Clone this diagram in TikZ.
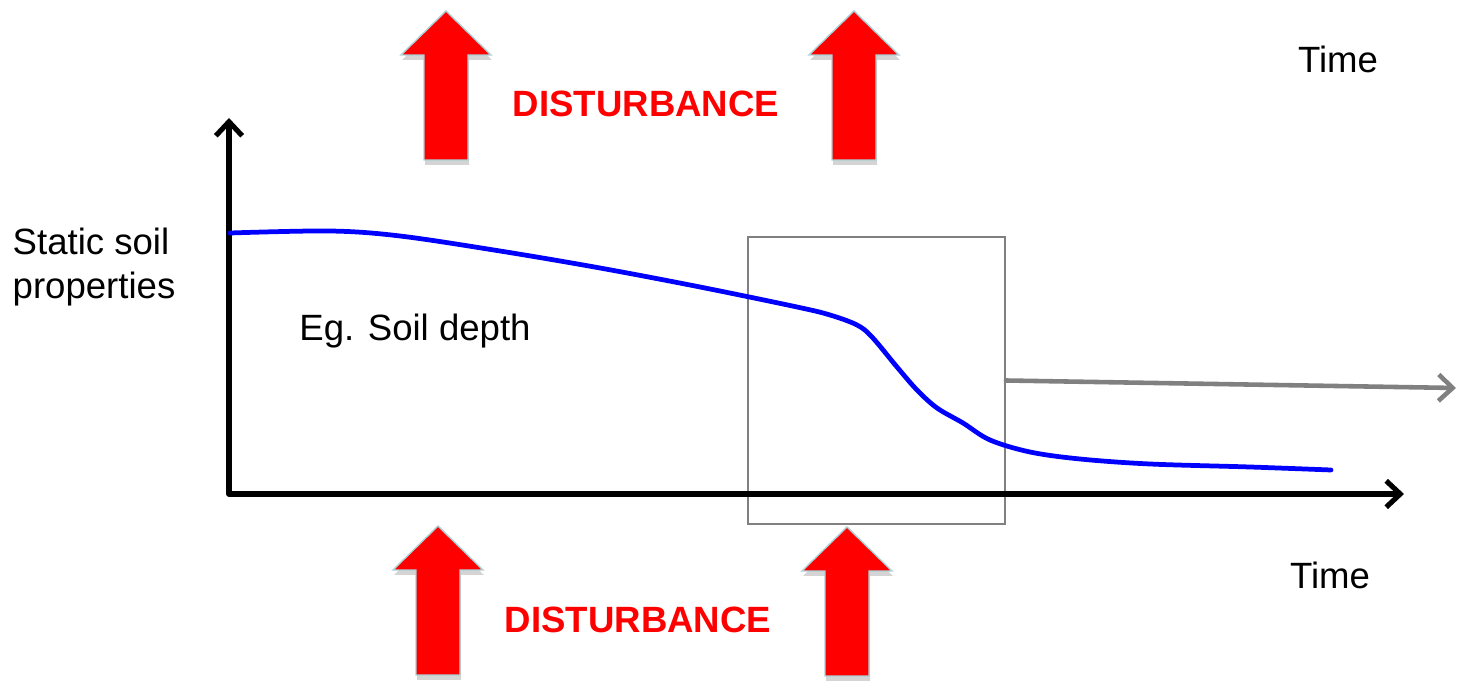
\documentclass[tikz,border=0pt]{standalone}
\usepackage{fontspec}
\setmainfont{Liberation Sans}
\usetikzlibrary{positioning,calc,arrows.meta}
\definecolor{soilblue}{RGB}{0,0,255}
\definecolor{boxgray}{RGB}{128,128,128}
\definecolor{rimblue}{RGB}{170,210,215}
\tikzset{>={Straight Barb[length=4pt,width=7.5pt]}}
\tikzset{axis/.style={line width=1.45pt,line join=round,line cap=round}}
\tikzset{soilcurve/.style={draw=soilblue,line width=1.35pt,line cap=round}}
\tikzset{zoombox/.style={draw=boxgray,line width=0.5pt,minimum width=2.57cm,minimum height=2.87cm,inner sep=0pt}}
\tikzset{lbl/.style={inner sep=0pt,font=\fontsize{10.4}{12.5}\selectfont}}
\tikzset{dlbl/.style={lbl,text=red,font=\fontsize{10.4}{12.5}\selectfont\bfseries}}
\tikzset{disarrow/.pic={
  \fill[black!17] (1,5) -- (46,49) -- (23,49) -- (23,154) -- (-21,154) -- (-21,49) -- (-44,49) -- cycle;
  \draw[draw=rimblue,fill=red,line width=0.4pt] (0,0) -- (45,44) -- (22,44) -- (22,149) -- (-22,149) -- (-22,44) -- (-45,44) -- cycle;
}}

\begin{document}
\begin{tikzpicture}[x=0.01cm,y=-0.01cm]
	\useasboundingbox (0,0) rectangle (1459,685);
		% disturbance arrows
		\pic at (446,11) {disarrow};
		\pic at (854,11) {disarrow};
		\pic at (438,526) {disarrow};
		\pic at (847,527) {disarrow};
		\node[dlbl] (dtop) at (646,104) {DISTURBANCE};
		\node[dlbl] (dbot) at (638,620) {DISTURBANCE};

		\coordinate (o) at (229,494);
		\coordinate (ytop) at (229,118);
		\coordinate (xend) at (1404,494);
		\coordinate (zend) at (1456,388);

		\node[zoombox] (zoom) at (876.5,380.5) {};
		\draw[axis,<->] (ytop) -- (o) -- (xend);
		\draw[soilcurve] plot[smooth,tension=0.55] coordinates {
			(230,233) (330,231) (400,236) (500,251) (600,268) (700,287)
			(797,307) (830,315) (857,325) (872,337) (897,367) (917,390)
			(937,408) (963,423) (990,440) (1030,452) (1080,459) (1150,464)
			(1250,467) (1331,470)};
		\draw[axis,->,line width=1.3pt,draw=boxgray] (zoom.east) -- (zend);

		\node[lbl,anchor=west,align=left] (ylab) at (12,267) {Static soil\\properties};
		\node[lbl] (eg) at (415,331) {Eg. Soil depth};
		\node[lbl] (ttop) at (1338,59) {Time};
		\node[lbl] (tbot) at (1330,575) {Time};
	\end{tikzpicture}
\end{document}
